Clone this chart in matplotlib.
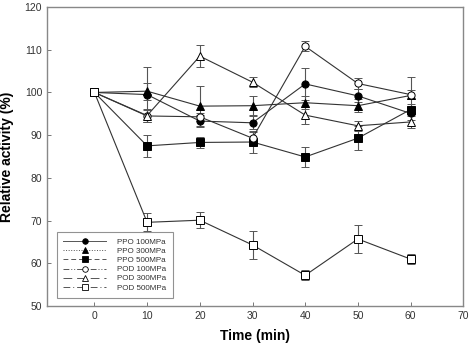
import matplotlib.pyplot as plt
from matplotlib.lines import Line2D

plt.rcParams['font.family'] = ['Liberation Sans', 'DejaVu Sans']

# 数据
time = [0, 10, 20, 30, 40, 50, 60]
ppo_100 = [100, 99.5, 93.3, 92.9, 102.0, 99.2, 95.1]
ppo_100_err = [0, 6.4, 1.5, 1.5, 3.8, 1.5, 1.5]
ppo_300 = [100, 100.3, 96.8, 96.9, 97.6, 96.9, 99.3]
ppo_300_err = [0, 2.0, 4.7, 2.2, 1.5, 1.5, 4.4]
ppo_500 = [100, 87.5, 88.3, 88.4, 84.9, 89.3, 96.0]
ppo_500_err = [0, 2.6, 1.2, 2.6, 2.4, 2.8, 1.2]
pod_100 = [100, 94.5, 94.3, 89.3, 110.8, 102.1, 99.5]
pod_100_err = [0, 1.5, 1.0, 1.5, 1.2, 1.2, 1.0]
pod_300 = [100, 94.6, 108.5, 102.4, 94.7, 92.2, 93.1]
pod_300_err = [0, 1.5, 2.5, 1.2, 2.0, 1.2, 1.4]
pod_500 = [100, 69.6, 70.1, 64.3, 57.2, 65.7, 61.0]
pod_500_err = [0, 2.1, 1.9, 3.2, 1.2, 3.3, 1.1]

labels = ['PPO 100MPa', 'PPO 300MPa', 'PPO 500MPa',
          'POD 100MPa', 'POD 300MPa', 'POD 500MPa']
series = [(ppo_100, ppo_100_err), (ppo_300, ppo_300_err), (ppo_500, ppo_500_err),
          (pod_100, pod_100_err), (pod_300, pod_300_err), (pod_500, pod_500_err)]
markers = ['o', '^', 's', 'o', '^', 's']
fills = ['black', 'black', 'black', 'white', 'white', 'white']
legend_styles = ['-', ':', (0, (5, 3)), (0, (6, 2, 1, 2, 1, 2)), (0, (9, 5)), (0, (7, 3, 1, 3))]

fig = plt.figure(figsize=(4.73, 3.51), dpi=100)
ax = fig.add_axes([0.0994, 0.128, 0.880, 0.852])

for (vals, err), m, fc in zip(series, markers, fills):
    ax.errorbar(time, vals, yerr=err, color='#333333', lw=0.8,
                ecolor='#555555', elinewidth=0.8, capsize=2.6, capthick=0.8,
                marker=m, markersize=5.2, markerfacecolor=fc,
                markeredgecolor='black', markeredgewidth=0.7)

ax.set_xlim(-9, 70)
ax.set_ylim(50, 120)
ax.set_xticks(range(0, 71, 10))
ax.set_yticks(range(50, 121, 10))
ax.tick_params(direction='in', length=3, width=0.7, color='#777777',
               labelsize=7.5, labelcolor='#333333')
for s in ax.spines.values():
    s.set_color('#888888')
    s.set_linewidth(1.0)

ax.set_xlabel('Time (min)', fontsize=10, fontweight='bold', labelpad=6)
ax.set_ylabel('Relative activity (%)', fontsize=10, fontweight='bold', labelpad=8)

# 图例
handles = [Line2D([0], [0], color='#555555', lw=0.7, linestyle=ls, marker=m,
                  markersize=4, markerfacecolor=fc, markeredgecolor='black',
                  markeredgewidth=0.6)
           for ls, m, fc in zip(legend_styles, markers, fills)]
leg = ax.legend(handles, labels, loc='lower left', bbox_to_anchor=(0.024, 0.027),
                fontsize=5.8, handlelength=5.3, handletextpad=1.4,
                labelspacing=0.18, borderpad=0.8, borderaxespad=0,
                fancybox=False, frameon=True)
leg.get_frame().set_edgecolor('#777777')
leg.get_frame().set_linewidth(0.8)
for t in leg.get_texts():
    t.set_color('#333333')

plt.savefig('out.png', dpi=100)
plt.close()
